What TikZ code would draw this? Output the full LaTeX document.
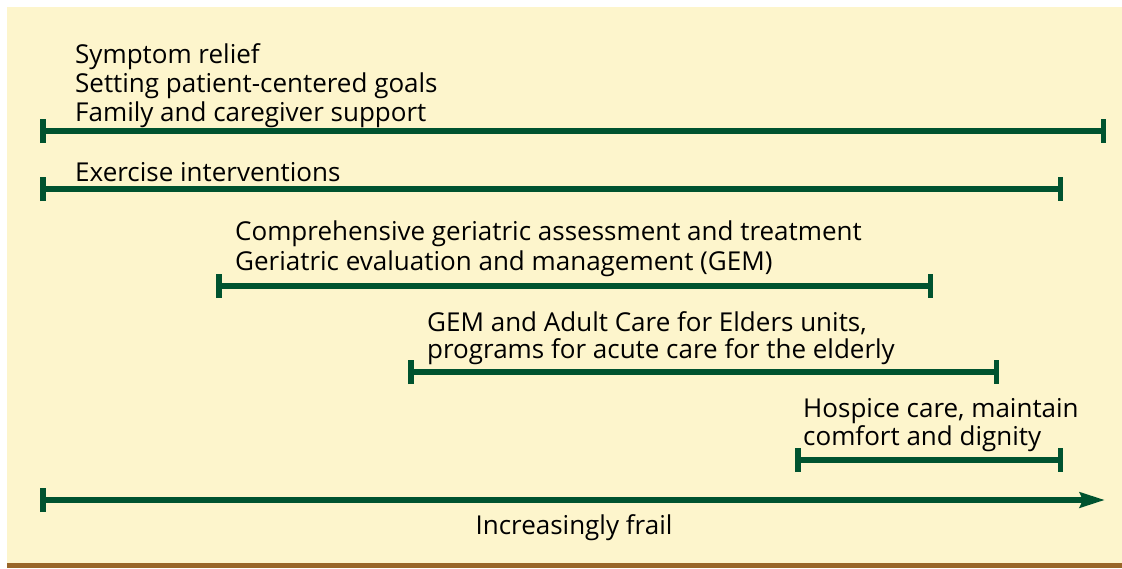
\documentclass[tikz,border=0pt]{standalone}
\usepackage{fontspec}
\setmainfont{Open Sans}
\usetikzlibrary{arrows.meta}
\definecolor{bg}{HTML}{FDF5CC}
\definecolor{grn}{HTML}{00532F}
\definecolor{brn}{HTML}{996629}
\tikzset{
  lbl/.style={anchor=base west, inner sep=0pt, font=\fontsize{26}{29}\selectfont},
  span/.style={draw=grn, line width=5.5pt, {Bar[width=24pt]}-{Bar[width=24pt]}},
  axis/.style={draw=grn, line width=5.5pt, {Bar[width=24pt]}-{Stealth[length=25pt,width=15pt,inset=3pt]}}
}
\begin{document}
\begin{tikzpicture}[x=1pt,y=-1pt]
\useasboundingbox (0,0) rectangle (1122,568);
\fill[white] (0,0) rectangle (1122,568);
\fill[bg] (7,7) rectangle (1122,563);
\fill[brn] (7,563) rectangle (1122,568);
% line 1
\node[lbl] (t1a) at (75,63) {Symptom relief};
\node[lbl] (t1b) at (75,92) {Setting patient-centered goals};
\node[lbl] (t1c) at (75,121) {Family and caregiver support};
\coordinate (a1) at (40,131); \coordinate (b1) at (1106,131);
\draw[span] (a1) -- (b1);
% line 2
\node[lbl] (t2) at (75,181) {Exercise interventions};
\coordinate (a2) at (40,189); \coordinate (b2) at (1063,189);
\draw[span] (a2) -- (b2);
% line 3
\node[lbl] (t3a) at (235,240) {Comprehensive geriatric assessment and treatment};
\node[lbl] (t3b) at (235,270) {Geriatric evaluation and management (GEM)};
\coordinate (a3) at (216,286); \coordinate (b3) at (933,286);
\draw[span] (a3) -- (b3);
% line 4
\node[lbl] (t4a) at (427,331) {GEM and Adult Care for Elders units,};
\node[lbl] (t4b) at (427,358) {programs for acute care for the elderly};
\coordinate (a4) at (408,372); \coordinate (b4) at (999,372);
\draw[span] (a4) -- (b4);
% line 5
\node[lbl] (t5a) at (803,417) {Hospice care, maintain};
\node[lbl] (t5b) at (803,445) {comfort and dignity};
\coordinate (a5) at (795,460); \coordinate (b5) at (1063,460);
\draw[span] (a5) -- (b5);
% axis
\coordinate (a6) at (40,500); \coordinate (b6) at (1105,500);
\draw[axis] (a6) -- (b6);
\node[lbl, anchor=base] (t6) at (574,534) {Increasingly frail};
\end{tikzpicture}
\end{document}
